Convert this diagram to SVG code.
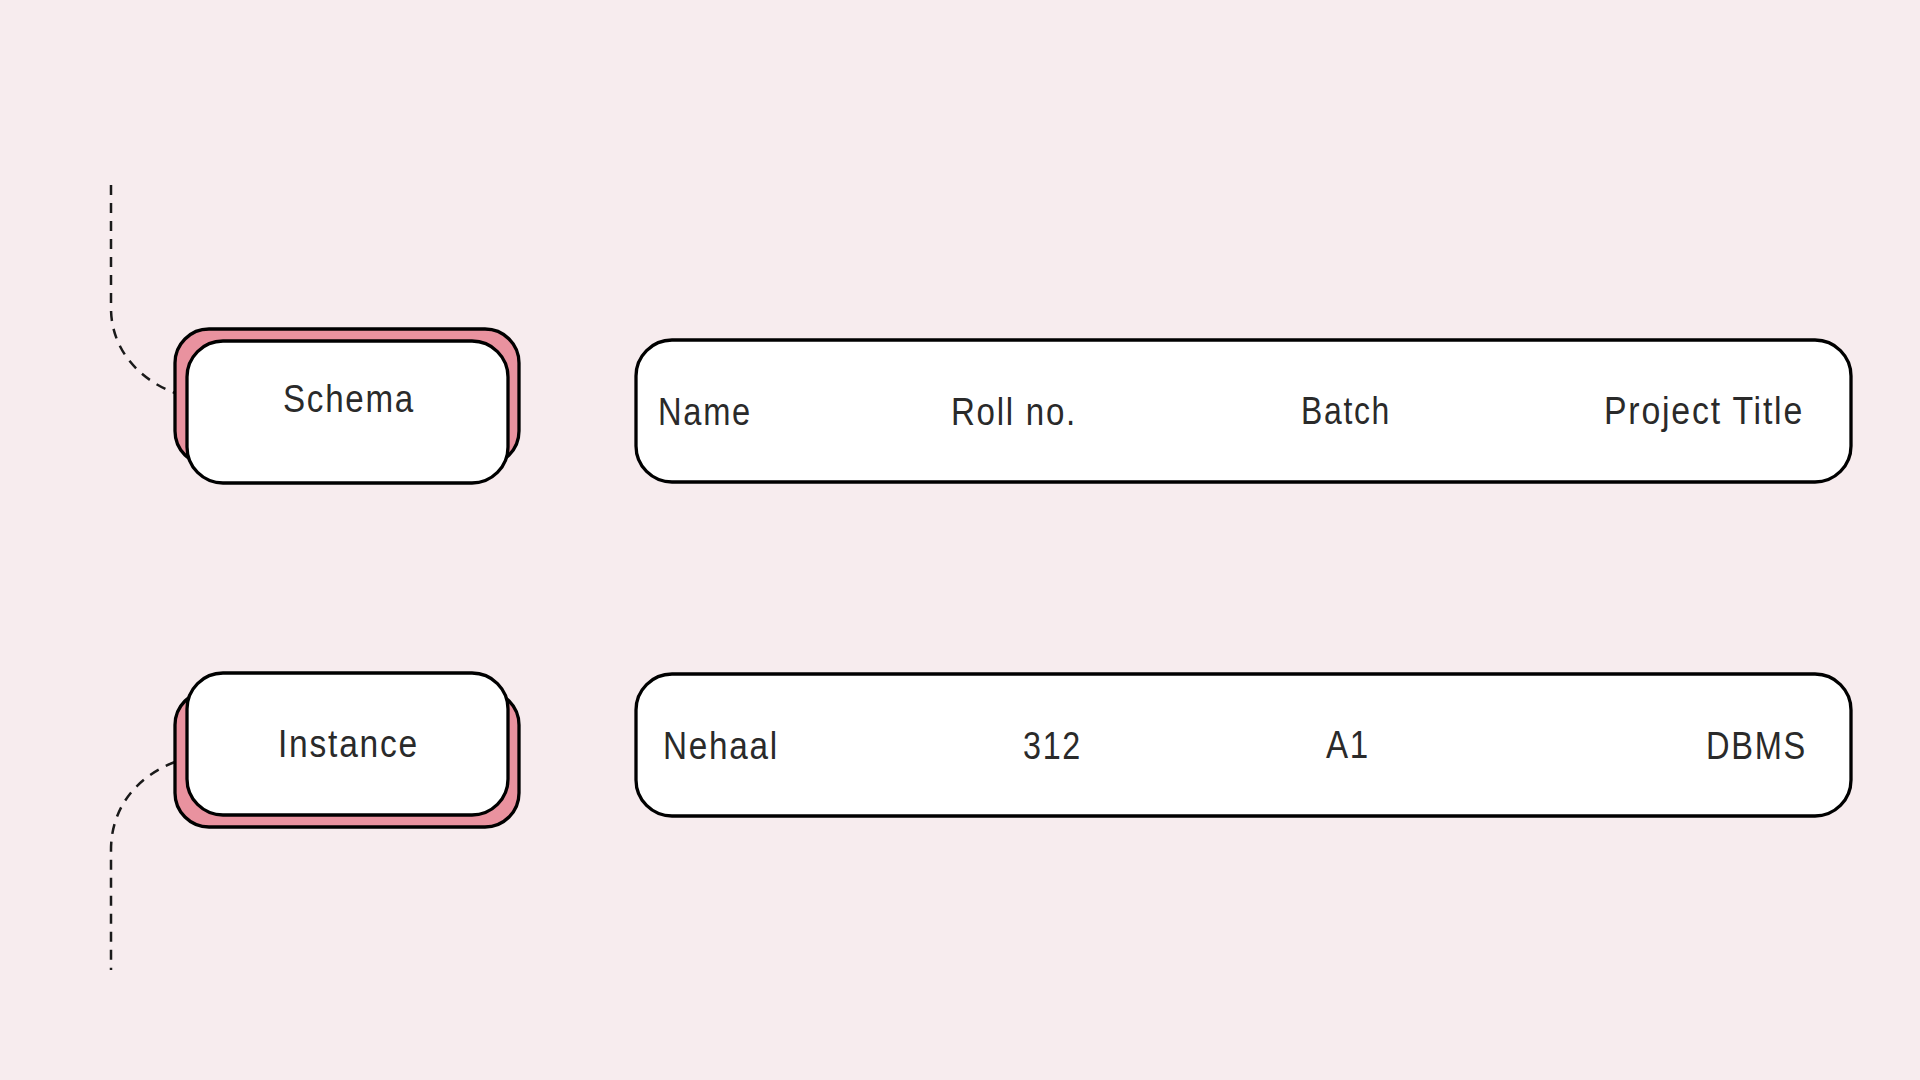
<svg xmlns="http://www.w3.org/2000/svg" width="1920" height="1080" viewBox="0 0 1920 1080">
<style>
.bg{fill:#F7ECEE}
.back{fill:#E9929F;stroke:#000;stroke-width:3.3}
.front{fill:#fff;stroke:#000;stroke-width:3.3}
.row{fill:#fff;stroke:#000;stroke-width:3.3}
.lbl{font-family:"Liberation Sans",Arial,sans-serif;font-size:38px;fill:#2a2a2a;letter-spacing:2px}
.dash{fill:none;stroke:#1a1a1a;stroke-width:2.5;stroke-dasharray:10 8}
</style>
<rect class="bg" x="0" y="0" width="1920" height="1080"/>
<g id="connectors">
<path class="dash" d="M111 185 V308 C111 350 140 380 175 393"/>
<path class="dash" d="M175 762 C140 775 111 805 111 850 V970"/>
</g>
<g id="schema">
<rect class="back" x="175" y="329" width="344" height="136" rx="34"/>
<rect class="front" x="187" y="341" width="321" height="142" rx="36"/>
<text class="lbl" x="283" y="412" textLength="132" lengthAdjust="spacingAndGlyphs">Schema</text>
</g>
<g id="instance">
<rect class="back" x="175" y="691" width="344" height="136" rx="34"/>
<rect class="front" x="187" y="673" width="321" height="142" rx="36"/>
<text class="lbl" x="278" y="757" textLength="141" lengthAdjust="spacingAndGlyphs">Instance</text>
</g>
<g id="schema-row">
<rect class="row" x="636" y="340" width="1215" height="142" rx="36"/>
<text class="lbl" x="658" y="425" textLength="94" lengthAdjust="spacingAndGlyphs">Name</text>
<text class="lbl" x="951" y="425" textLength="126" lengthAdjust="spacingAndGlyphs">Roll no.</text>
<text class="lbl" x="1301" y="424" textLength="90" lengthAdjust="spacingAndGlyphs">Batch</text>
<text class="lbl" x="1604" y="424" textLength="200" lengthAdjust="spacingAndGlyphs">Project Title</text>
</g>
<g id="instance-row">
<rect class="row" x="636" y="674" width="1215" height="142" rx="36"/>
<text class="lbl" x="663" y="759" textLength="116" lengthAdjust="spacingAndGlyphs">Nehaal</text>
<text class="lbl" x="1023" y="759" textLength="59" lengthAdjust="spacingAndGlyphs">312</text>
<text class="lbl" x="1326" y="758" textLength="44" lengthAdjust="spacingAndGlyphs">A1</text>
<text class="lbl" x="1706" y="759" textLength="101" lengthAdjust="spacingAndGlyphs">DBMS</text>
</g>
</svg>
